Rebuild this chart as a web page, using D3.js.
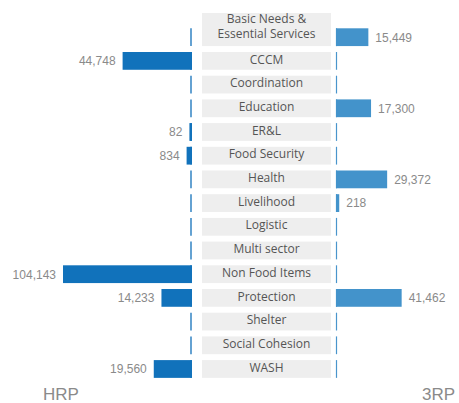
<!DOCTYPE html>
<html lang="en">
<head>
  <meta charset="UTF-8">
  <title>HRP vs 3RP</title>
  <script src="https://d3js.org/d3.v7.min.js"></script>
  <style>
    body { margin: 0; background: #fff; }
    .val { font-family: "Liberation Sans", Arial, sans-serif; font-size: 12px; fill: #8a8a8a; }
    .cat { font-family: "Open Sans", sans-serif; font-size: 12px; fill: #555; }
    .side { font-family: "Liberation Sans", Arial, sans-serif; font-size: 17px; fill: #8a8a8a; }
  </style>
</head>
<body>
<svg id="chart" width="459" height="403"></svg>
<script>
  const categories = ["Basic Needs & Essential Services", "CCCM", "Coordination", "Education", "ER&L",
    "Food Security", "Health", "Livelihood", "Logistic", "Multi sector", "Non Food Items",
    "Protection", "Shelter", "Social Cohesion", "WASH"];
  const hrpValues = [null, 44748, null, null, 82, 834, null, null, null, null, 104143, 14233, null, null, 19560];
  const rrpValues = [15449, null, null, 17300, null, null, 29372, 218, null, null, null, 41462, null, null, null];
  const sideLabels = ["HRP", "3RP"];

  const svg = d3.select("#chart");
  const leftZero = 192;
  const rightZero = 336;
  const boxX0 = 202, boxX1 = 331;

  const y = d3.scaleBand()
    .domain(categories)
    .range([28.3, 28.3 + 15 * 23.7 - 0.25 * 23.7])
    .paddingInner(0.25)
    .paddingOuter(0);

  // bar length scale (shared by both sides)
  const len = d3.scalePow().exponent(0.75)
    .domain([0, d3.max(hrpValues.concat(rrpValues))])
    .range([2, 129]);

  const rows = categories.map((c, i) => ({ cat: c, hrp: hrpValues[i], rrp: rrpValues[i] }));

  // label boxes
  svg.append("g").selectAll("rect")
    .data(rows)
    .join("rect")
    .attr("x", boxX0)
    .attr("width", boxX1 - boxX0)
    .attr("y", (d, i) => i === 0 ? 13 : y(d.cat))
    .attr("height", (d, i) => i === 0 ? y(d.cat) + y.bandwidth() - 13 : y.bandwidth())
    .attr("fill", "#eeeeee");

  const cat = svg.append("g").selectAll("text")
    .data(rows)
    .join("text")
    .attr("class", "cat")
    .attr("text-anchor", "middle")
    .attr("x", (boxX0 + boxX1) / 2)
    .attr("y", d => y(d.cat) + 11.5);
  cat.filter((d, i) => i !== 0).text(d => d.cat);
  cat.filter((d, i) => i === 0)
    .attr("y", 22.5)
    .call(t => {
      t.append("tspan").attr("x", (boxX0 + boxX1) / 2).text("Basic Needs &");
      t.append("tspan").attr("x", (boxX0 + boxX1) / 2).attr("dy", 15.3).text("Essential Services");
    });

  // baselines
  svg.append("g").selectAll("line")
    .data(rows)
    .join("line")
    .attr("x1", leftZero - 1).attr("x2", leftZero - 1)
    .attr("y1", d => y(d.cat)).attr("y2", d => y(d.cat) + y.bandwidth())
    .attr("stroke", "#1170ba").attr("stroke-width", 1.3);
  svg.append("g").selectAll("line")
    .data(rows)
    .join("line")
    .attr("x1", rightZero + 0.5).attr("x2", rightZero + 0.5)
    .attr("y1", d => y(d.cat)).attr("y2", d => y(d.cat) + y.bandwidth())
    .attr("stroke", "#4a95cc").attr("stroke-width", 1.2);

  // HRP bars
  const hrp = rows.filter(d => d.hrp != null);
  svg.append("g").selectAll("rect")
    .data(hrp)
    .join("rect")
    .attr("x", d => leftZero - len(d.hrp))
    .attr("width", d => len(d.hrp))
    .attr("y", d => y(d.cat))
    .attr("height", y.bandwidth())
    .attr("fill", "#1172bb");
  svg.append("g").selectAll("text")
    .data(hrp)
    .join("text")
    .attr("class", "val")
    .attr("text-anchor", "end")
    .attr("x", d => leftZero - len(d.hrp) - 7)
    .attr("y", d => y(d.cat) + y.bandwidth() / 2)
    .attr("dy", "0.36em")
    .text(d => d3.format(",")(d.hrp));

  // 3RP bars
  const rrp = rows.filter(d => d.rrp != null);
  svg.append("g").selectAll("rect")
    .data(rrp)
    .join("rect")
    .attr("x", rightZero)
    .attr("width", d => len(d.rrp))
    .attr("y", d => y(d.cat))
    .attr("height", y.bandwidth())
    .attr("fill", "#4393cb");
  svg.append("g").selectAll("text")
    .data(rrp)
    .join("text")
    .attr("class", "val")
    .attr("x", d => rightZero + len(d.rrp) + 7)
    .attr("y", d => y(d.cat) + y.bandwidth() / 2)
    .attr("dy", "0.36em")
    .text(d => d3.format(",")(d.rrp));

  svg.append("text").attr("class", "side").attr("x", 43).attr("y", 400).text(sideLabels[0]);
  svg.append("text").attr("class", "side").attr("text-anchor", "end").attr("x", 455).attr("y", 400).text(sideLabels[1]);
</script>
</body>
</html>
